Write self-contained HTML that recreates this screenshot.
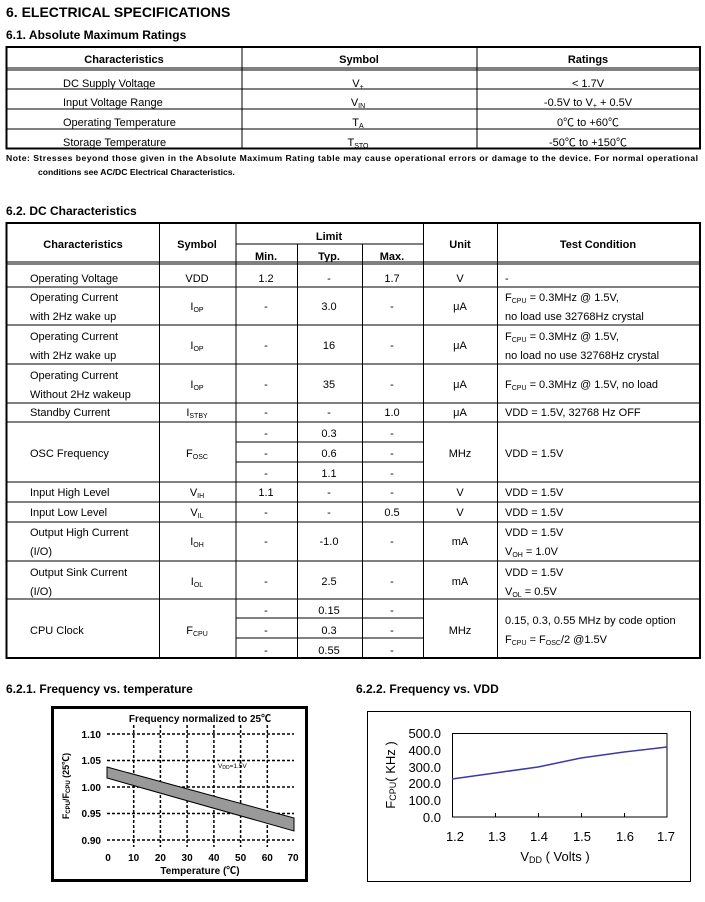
<!DOCTYPE html>
<html><head><meta charset="utf-8"><style>
html,body{margin:0;padding:0;background:#fff}
svg{display:block}
text{font-family:"Liberation Sans","Noto Sans CJK SC",sans-serif;fill:#000}
</style></head><body>
<svg width="705" height="902" viewBox="0 0 705 902" xmlns="http://www.w3.org/2000/svg">
<text x="6" y="17" font-size="14" font-weight="bold">6. ELECTRICAL SPECIFICATIONS</text>
<text x="6" y="39" font-size="12" font-weight="bold">6.1. Absolute Maximum Ratings</text>

<!-- Table 1 -->
<g stroke="#000" fill="none">
<rect x="6.5" y="47" width="693.5" height="101.5" stroke-width="2"/>
<line x1="6" y1="68" x2="700" y2="68" stroke-width="1"/>
<line x1="6" y1="70" x2="700" y2="70" stroke-width="1"/>
<line x1="6" y1="89" x2="700" y2="89"/>
<line x1="6" y1="109" x2="700" y2="109"/>
<line x1="6" y1="129" x2="700" y2="129"/>
<line x1="242" y1="47" x2="242" y2="148"/>
<line x1="477" y1="47" x2="477" y2="148"/>
</g>
<g font-size="11">
<text x="124" y="63" font-weight="bold" text-anchor="middle">Characteristics</text>
<text x="359" y="63" font-weight="bold" text-anchor="middle">Symbol</text>
<text x="588" y="63" font-weight="bold" text-anchor="middle">Ratings</text>
<text x="63" y="87">DC Supply Voltage</text>
<text x="63" y="106">Input Voltage Range</text>
<text x="63" y="126">Operating Temperature</text>
<text x="63" y="146">Storage Temperature</text>
<text x="358" y="87" text-anchor="middle">V<tspan font-size="7" dy="2">+</tspan></text>
<text x="358" y="106" text-anchor="middle">V<tspan font-size="7" dy="2">IN</tspan></text>
<text x="358" y="126" text-anchor="middle">T<tspan font-size="7" dy="2">A</tspan></text>
<text x="358" y="146" text-anchor="middle">T<tspan font-size="7" dy="2">STO</tspan></text>
<text x="588" y="87" text-anchor="middle">&lt; 1.7V</text>
<text x="588" y="106" text-anchor="middle">-0.5V to V<tspan font-size="7" dy="2">+</tspan><tspan dy="-2"> + 0.5V</tspan></text>
<text x="588" y="126" text-anchor="middle">0℃  to +60℃</text>
<text x="588" y="146" text-anchor="middle">-50℃  to +150℃</text>
</g>
<text x="6" y="161" font-size="8.6" font-weight="bold" textLength="692">Note: Stresses beyond those given in the Absolute Maximum Rating table may cause operational errors or damage to the device.   For normal operational</text>
<text x="38" y="175" font-size="8.6" font-weight="bold">conditions see AC/DC Electrical Characteristics.</text>

<text x="6" y="215" font-size="12" font-weight="bold">6.2. DC Characteristics</text>

<!-- Table 2 -->
<g stroke="#000" fill="none">
<rect x="6.5" y="223" width="693.5" height="435" stroke-width="2"/>
<line x1="6" y1="262" x2="700" y2="262"/>
<line x1="6" y1="264" x2="700" y2="264"/>
<line x1="236" y1="244" x2="423" y2="244"/>
<line x1="6" y1="287" x2="700" y2="287"/>
<line x1="6" y1="325" x2="700" y2="325"/>
<line x1="6" y1="364" x2="700" y2="364"/>
<line x1="6" y1="403" x2="700" y2="403"/>
<line x1="6" y1="422" x2="700" y2="422"/>
<line x1="236" y1="442" x2="423" y2="442"/>
<line x1="236" y1="462" x2="423" y2="462"/>
<line x1="6" y1="482" x2="700" y2="482"/>
<line x1="6" y1="502" x2="700" y2="502"/>
<line x1="6" y1="522" x2="700" y2="522"/>
<line x1="6" y1="561" x2="700" y2="561"/>
<line x1="6" y1="599" x2="700" y2="599"/>
<line x1="236" y1="618" x2="423" y2="618"/>
<line x1="236" y1="638" x2="423" y2="638"/>
<line x1="159.5" y1="223" x2="159.5" y2="658"/>
<line x1="236" y1="223" x2="236" y2="658"/>
<line x1="297.5" y1="244" x2="297.5" y2="658"/>
<line x1="362.5" y1="244" x2="362.5" y2="658"/>
<line x1="423.5" y1="223" x2="423.5" y2="658"/>
<line x1="497.5" y1="223" x2="497.5" y2="658"/>
</g>
<g font-size="11">
<g font-weight="bold" text-anchor="middle">
<text x="83" y="248">Characteristics</text>
<text x="197" y="248">Symbol</text>
<text x="329" y="240">Limit</text>
<text x="266" y="260">Min.</text>
<text x="329" y="260">Typ.</text>
<text x="392" y="260">Max.</text>
<text x="460" y="248">Unit</text>
<text x="598" y="248">Test Condition</text>
</g>
<g>
<text x="30" y="282">Operating Voltage</text>
<text x="30" y="301">Operating Current</text><text x="30" y="320">with 2Hz wake up</text>
<text x="30" y="340">Operating Current</text><text x="30" y="359">with 2Hz wake up</text>
<text x="30" y="379">Operating Current</text><text x="30" y="398">Without 2Hz wakeup</text>
<text x="30" y="416">Standby Current</text>
<text x="30" y="457">OSC Frequency</text>
<text x="30" y="496">Input High Level</text>
<text x="30" y="516">Input Low Level</text>
<text x="30" y="536">Output High Current</text><text x="30" y="555">(I/O)</text>
<text x="30" y="576">Output Sink Current</text><text x="30" y="595">(I/O)</text>
<text x="30" y="634">CPU Clock</text>
</g>
<g text-anchor="middle">
<text x="197" y="282">VDD</text>
<text x="197" y="310">I<tspan font-size="7" dy="2">OP</tspan></text>
<text x="197" y="349">I<tspan font-size="7" dy="2">OP</tspan></text>
<text x="197" y="388">I<tspan font-size="7" dy="2">OP</tspan></text>
<text x="197" y="416">I<tspan font-size="7" dy="2">STBY</tspan></text>
<text x="197" y="457">F<tspan font-size="7" dy="2">OSC</tspan></text>
<text x="197" y="496">V<tspan font-size="7" dy="2">IH</tspan></text>
<text x="197" y="516">V<tspan font-size="7" dy="2">IL</tspan></text>
<text x="197" y="545">I<tspan font-size="7" dy="2">OH</tspan></text>
<text x="197" y="585">I<tspan font-size="7" dy="2">OL</tspan></text>
<text x="197" y="634">F<tspan font-size="7" dy="2">CPU</tspan></text>

<text x="266" y="282">1.2</text><text x="329" y="282">-</text><text x="392" y="282">1.7</text><text x="460" y="282">V</text>
<text x="266" y="310">-</text><text x="329" y="310">3.0</text><text x="392" y="310">-</text><text x="460" y="310">μA</text>
<text x="266" y="349">-</text><text x="329" y="349">16</text><text x="392" y="349">-</text><text x="460" y="349">μA</text>
<text x="266" y="388">-</text><text x="329" y="388">35</text><text x="392" y="388">-</text><text x="460" y="388">μA</text>
<text x="266" y="416">-</text><text x="329" y="416">-</text><text x="392" y="416">1.0</text><text x="460" y="416">μA</text>
<text x="266" y="437">-</text><text x="329" y="437">0.3</text><text x="392" y="437">-</text>
<text x="266" y="457">-</text><text x="329" y="457">0.6</text><text x="392" y="457">-</text><text x="460" y="457">MHz</text>
<text x="266" y="477">-</text><text x="329" y="477">1.1</text><text x="392" y="477">-</text>
<text x="266" y="496">1.1</text><text x="329" y="496">-</text><text x="392" y="496">-</text><text x="460" y="496">V</text>
<text x="266" y="516">-</text><text x="329" y="516">-</text><text x="392" y="516">0.5</text><text x="460" y="516">V</text>
<text x="266" y="545">-</text><text x="329" y="545">-1.0</text><text x="392" y="545">-</text><text x="460" y="545">mA</text>
<text x="266" y="585">-</text><text x="329" y="585">2.5</text><text x="392" y="585">-</text><text x="460" y="585">mA</text>
<text x="266" y="614">-</text><text x="329" y="614">0.15</text><text x="392" y="614">-</text>
<text x="266" y="634">-</text><text x="329" y="634">0.3</text><text x="392" y="634">-</text><text x="460" y="634">MHz</text>
<text x="266" y="654">-</text><text x="329" y="654">0.55</text><text x="392" y="654">-</text>
</g>
<g>
<text x="505" y="282">-</text>
<text x="505" y="301">F<tspan font-size="7" dy="2">CPU</tspan><tspan dy="-2"> = 0.3MHz @ 1.5V,</tspan></text>
<text x="505" y="320">no load use 32768Hz crystal</text>
<text x="505" y="340">F<tspan font-size="7" dy="2">CPU</tspan><tspan dy="-2"> = 0.3MHz @ 1.5V,</tspan></text>
<text x="505" y="359">no load no use 32768Hz crystal</text>
<text x="505" y="388">F<tspan font-size="7" dy="2">CPU</tspan><tspan dy="-2"> = 0.3MHz @ 1.5V, no load</tspan></text>
<text x="505" y="416">VDD = 1.5V, 32768 Hz OFF</text>
<text x="505" y="457">VDD = 1.5V</text>
<text x="505" y="496">VDD = 1.5V</text>
<text x="505" y="516">VDD = 1.5V</text>
<text x="505" y="536">VDD = 1.5V</text>
<text x="505" y="555">V<tspan font-size="7" dy="2">OH</tspan><tspan dy="-2"> = 1.0V</tspan></text>
<text x="505" y="576">VDD = 1.5V</text>
<text x="505" y="595">V<tspan font-size="7" dy="2">OL</tspan><tspan dy="-2"> = 0.5V</tspan></text>
<text x="505" y="624">0.15, 0.3, 0.55 MHz by code option</text>
<text x="505" y="643">F<tspan font-size="7" dy="2">CPU</tspan><tspan dy="-2"> = F</tspan><tspan font-size="7" dy="2">OSC</tspan><tspan dy="-2">/2 @1.5V</tspan></text>
</g>
</g>

<text x="6" y="693" font-size="12" font-weight="bold">6.2.1. Frequency vs. temperature</text>
<text x="356" y="693" font-size="12" font-weight="bold">6.2.2. Frequency vs. VDD</text>

<!-- Left chart -->
<rect x="52.5" y="707.5" width="254" height="173" fill="none" stroke="#000" stroke-width="3"/>
<text x="200" y="722" font-size="10" font-weight="bold" text-anchor="middle">Frequency normalized to 25℃</text>
<g stroke="#000" stroke-width="1.5" stroke-dasharray="3,2" fill="none">
<line x1="107" y1="734" x2="294" y2="734"/>
<line x1="107" y1="760.5" x2="294" y2="760.5"/>
<line x1="107" y1="787" x2="294" y2="787"/>
<line x1="107" y1="813.5" x2="294" y2="813.5"/>
<line x1="107" y1="840" x2="294" y2="840"/>
<line x1="133.7" y1="725" x2="133.7" y2="847"/>
<line x1="160.4" y1="725" x2="160.4" y2="847"/>
<line x1="187.1" y1="725" x2="187.1" y2="847"/>
<line x1="213.9" y1="725" x2="213.9" y2="847"/>
<line x1="240.6" y1="725" x2="240.6" y2="847"/>
<line x1="267.3" y1="725" x2="267.3" y2="847"/>
</g>
<polygon points="107,767 294,818 294,831 107,778" fill="#999" stroke="#000" stroke-width="1"/>
<text x="218" y="768" font-size="6.5">V<tspan font-size="5" dy="1">DD</tspan><tspan dy="-1">=1.5V</tspan></text>
<g font-size="10" font-weight="bold" text-anchor="end">
<text x="101" y="738">1.10</text>
<text x="101" y="764">1.05</text>
<text x="101" y="791">1.00</text>
<text x="101" y="817">0.95</text>
<text x="101" y="844">0.90</text>
</g>
<g font-size="10" font-weight="bold" text-anchor="middle">
<text x="108" y="861">0</text><text x="133.7" y="861">10</text><text x="160.4" y="861">20</text><text x="187.1" y="861">30</text>
<text x="213.9" y="861">40</text><text x="240.6" y="861">50</text><text x="267.3" y="861">60</text><text x="293" y="861">70</text>
<text x="200" y="874">Temperature (℃)</text>
</g>
<text transform="translate(69,786) rotate(-90)" font-size="9" font-weight="bold" text-anchor="middle">F<tspan font-size="6" dy="1">CPU</tspan><tspan dy="-1">/F</tspan><tspan font-size="6" dy="1">CPU</tspan><tspan dy="-1"> (25℃)</tspan></text>

<!-- Right chart -->
<rect x="367.5" y="711.5" width="323" height="170" fill="none" stroke="#000" stroke-width="1"/>
<rect x="452.5" y="733.5" width="214.5" height="83.5" fill="none" stroke="#000" stroke-width="1"/>
<g stroke="#000">
<line x1="495.5" y1="817" x2="495.5" y2="813"/>
<line x1="538.5" y1="817" x2="538.5" y2="813"/>
<line x1="581.5" y1="817" x2="581.5" y2="813"/>
<line x1="624.5" y1="817" x2="624.5" y2="813"/>
</g>
<polyline points="452,779 495,773 538,767 581,758 624,752 667,747" fill="none" stroke="#3a3aa8" stroke-width="1.5"/>
<g font-size="13" text-anchor="end">
<text x="441" y="738">500.0</text>
<text x="441" y="755">400.0</text>
<text x="441" y="772">300.0</text>
<text x="441" y="788">200.0</text>
<text x="441" y="805">100.0</text>
<text x="441" y="822">0.0</text>
</g>
<g font-size="13" text-anchor="middle">
<text x="455" y="841">1.2</text><text x="497" y="841">1.3</text><text x="539" y="841">1.4</text>
<text x="582" y="841">1.5</text><text x="625" y="841">1.6</text><text x="666" y="841">1.7</text>
<text x="555" y="861">V<tspan font-size="9" dy="2">DD</tspan><tspan dy="-2"> ( Volts )</tspan></text>
</g>
<text transform="translate(395,775) rotate(-90)" font-size="13" text-anchor="middle">F<tspan font-size="9" dy="1">CPU</tspan><tspan dy="-1">( KHz )</tspan></text>
</svg>
</body></html>
